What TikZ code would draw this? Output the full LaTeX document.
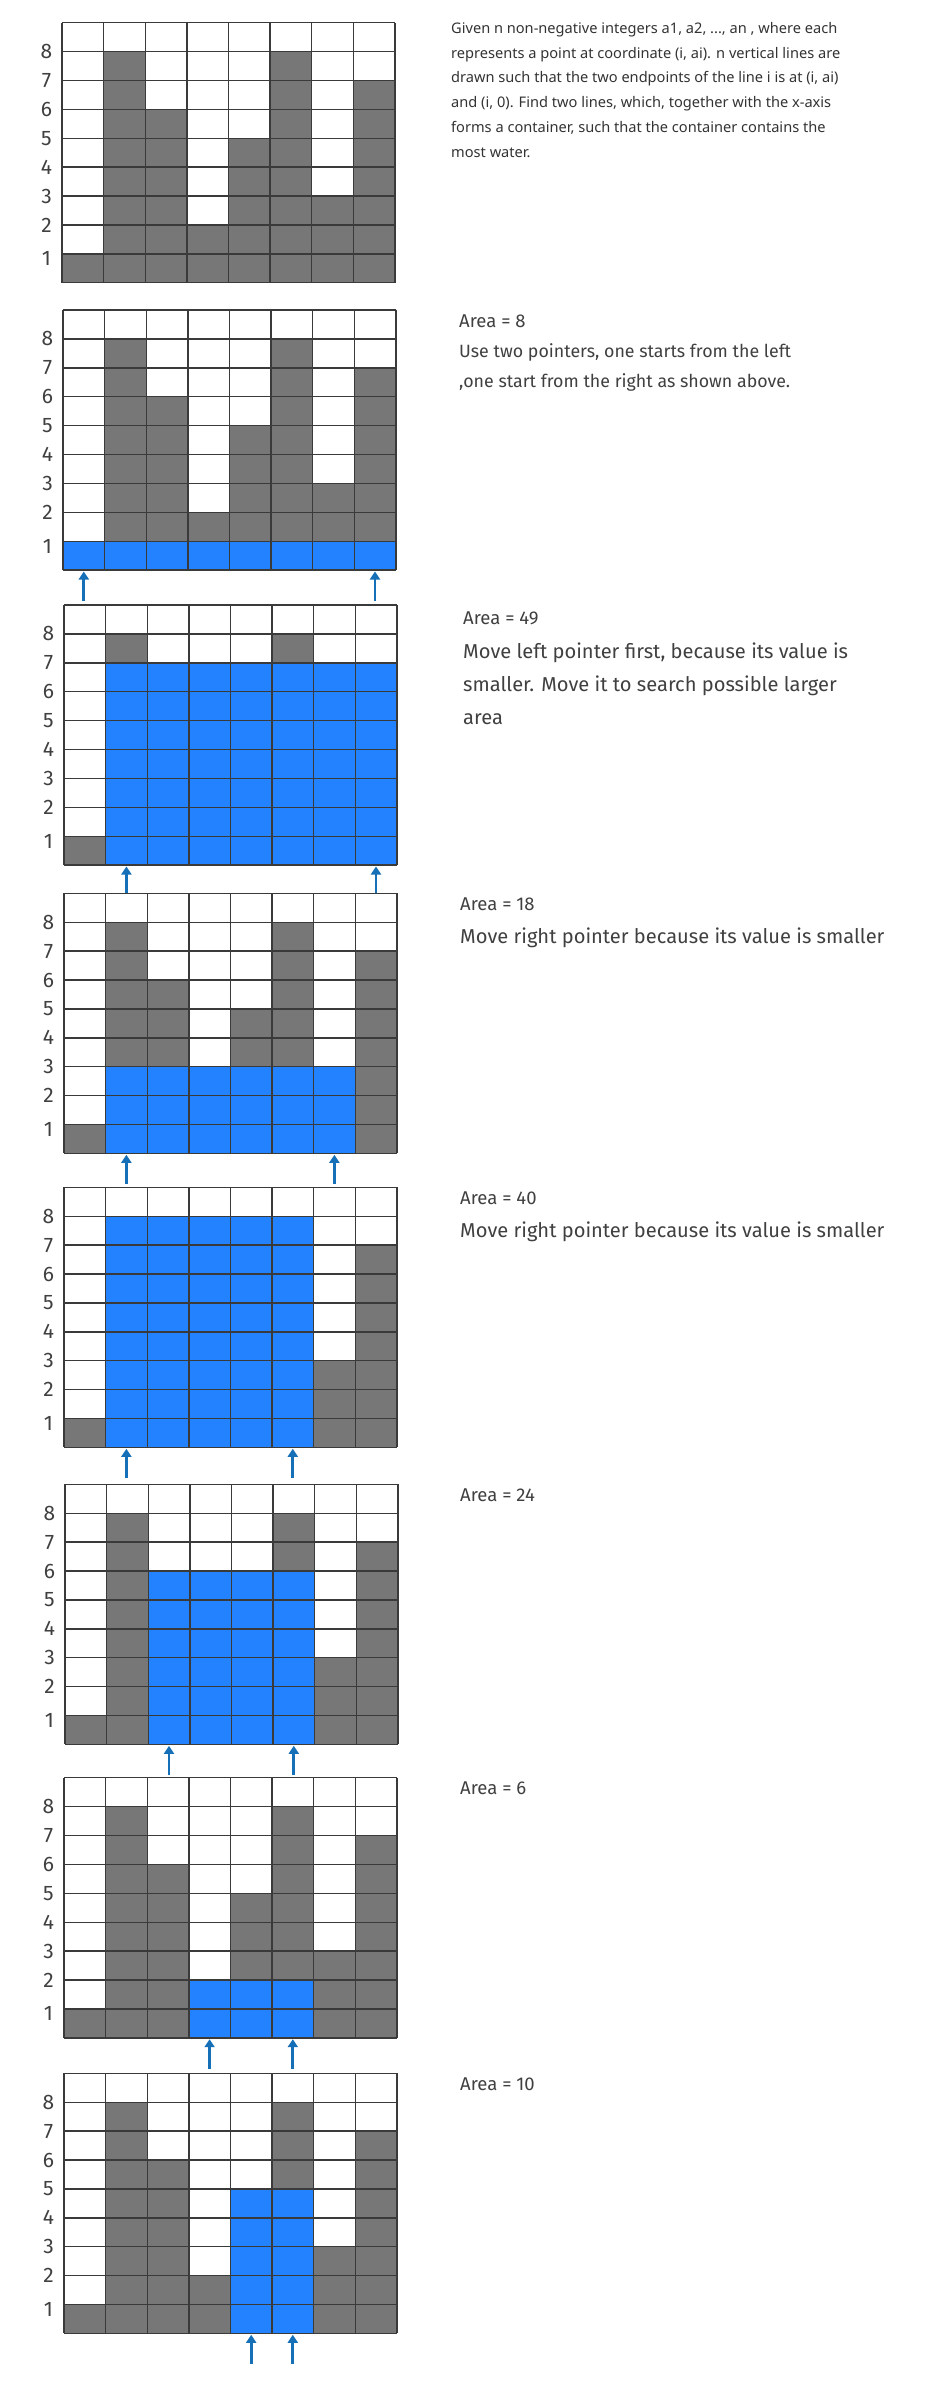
\documentclass[tikz,border=0pt]{standalone}
\usepackage{fontspec}
\setmainfont{Noto Sans}
\newfontfamily\barlow{Fira Sans}
\usetikzlibrary{arrows.meta}
\definecolor{barc}{HTML}{777777}
\definecolor{waterc}{HTML}{2282FF}
\definecolor{gridc}{HTML}{3A3A3A}
\definecolor{ptrc}{HTML}{1570B8}
\definecolor{txtc}{HTML}{333333}
\definecolor{txtb}{HTML}{404040}
\tikzset{
  gridline/.style={draw=gridc, line width=1.4pt},
  ylab/.style={font=\barlow\fontsize{21}{21}\selectfont, text=txtb, inner sep=0pt},
  ptrarrow/.style={draw=ptrc, line width=2.8pt, -{Triangle[width=10pt,length=8pt]}},
  desc/.style={anchor=base west, inner sep=0pt, text=txtc, font=\fontsize{14.6}{14.6}\selectfont},
  area/.style={anchor=base west, inner sep=0pt, text=txtb, font=\barlow\fontsize{18.5}{18.5}\selectfont},
  note/.style={anchor=base west, inner sep=0pt, text=txtb, font=\barlow\fontsize{20.1}{20.1}\selectfont},
  notesm/.style={anchor=base west, inner sep=0pt, text=txtb, font=\barlow\fontsize{17.8}{17.8}\selectfont}
}
% #1 name, #2 left, #3 top, #4 water left col, #5 water right col, #6 water height
\newcommand\drawpanel[6]{%
  \begin{scope}[shift={(#2,#3)}]
    \fill[white] (0,0) rectangle (332.8,260.1);
    \foreach \h [count=\c] in {1,8,6,2,5,8,3,7} {
      \fill[barc] ({(\c-1)*41.6},260.1) rectangle ({\c*41.6},{260.1-\h*28.9});
    }
    \ifnum#6>0
      \fill[waterc] ({(#4-1)*41.6},260.1) rectangle ({#5*41.6},{260.1-#6*28.9});
    \fi
    \foreach \i in {0,...,8} { \draw[gridline] ({\i*41.6},0) -- ({\i*41.6},260.1); }
    \foreach \j in {0,...,9} { \draw[gridline] (0,{\j*28.9}) -- (332.8,{\j*28.9}); }
    \node[ylab] (#1-l1) at (-15.5,{260.1-28.9+5}) {1};
    \foreach \k in {2,...,8} { \node[ylab] (#1-l\k) at (-15.5,{260.1-\k*28.9}) {\k}; }
    \ifnum#6>0
      \coordinate (#1-pa) at ({(#4-0.5)*41.6},291);
      \coordinate (#1-pb) at ({(#4-0.5)*41.6},261.5);
      \coordinate (#1-qa) at ({(#5-0.5)*41.6},291);
      \coordinate (#1-qb) at ({(#5-0.5)*41.6},261.5);
      \draw[ptrarrow] (#1-pa) -- (#1-pb);
      \draw[ptrarrow] (#1-qa) -- (#1-qb);
    \fi
  \end{scope}}
\begin{document}
\begin{tikzpicture}[x=1pt,y=-1pt]
\useasboundingbox (0,0) rectangle (951,2389);
\fill[white] (0,0) rectangle (951,2389);

\drawpanel{g1}{62}{22.7}{1}{8}{0}
\drawpanel{g2}{63}{310}{1}{8}{1}
\drawpanel{g3}{64}{605}{2}{8}{7}
\drawpanel{g4}{64}{893.3}{2}{7}{3}
\drawpanel{g5}{64}{1187.3}{2}{6}{8}
\drawpanel{g6}{65}{1484.3}{3}{6}{6}
\drawpanel{g7}{64}{1777.7}{4}{6}{2}
\drawpanel{g8}{64}{2073.3}{5}{6}{5}

% problem statement
\node[desc] (t1) at (451,33.3) {Given n non-negative integers a1, a2, ..., an , where each};
\node[desc] (t2) at (451,58.1) {represents a point at coordinate (i, ai). n vertical lines are};
\node[desc] (t3) at (451,82.9) {drawn such that the two endpoints of the line i is at (i, ai)};
\node[desc] (t4) at (451,107.7) {and (i, 0). Find two lines, which, together with the x-axis};
\node[desc] (t5) at (451,132.5) {forms a container, such that the container contains the};
\node[desc] (t6) at (451,157.3) {most water.};

% panel 2
\node[area] (a2) at (459,327.3) {Area = 8};
\node[notesm] (n2a) at (459,357.3) {Use two pointers, one starts from the left};
\node[notesm] (n2b) at (459,387.3) {,one start from the right as shown above.};

% panel 3
\node[area] (a3) at (463,624.3) {Area = 49};
\node[note] (n3a) at (463,658.3) {Move left pointer first, because its value is};
\node[note] (n3b) at (463,691.3) {smaller. Move it to search possible larger};
\node[note] (n3c) at (463,724.3) {area};

% panel 4
\node[area] (a4) at (460,910) {Area = 18};
\node[note] (n4) at (460,943.3) {Move right pointer because its value is smaller};

% panel 5
\node[area] (a5) at (460,1204.3) {Area = 40};
\node[note] (n5) at (460,1237.6) {Move right pointer because its value is smaller};

% panels 6-8
\node[area] (a6) at (460,1501) {Area = 24};
\node[area] (a7) at (460,1794.7) {Area = 6};
\node[area] (a8) at (460,2090.3) {Area = 10};
\end{tikzpicture}
\end{document}
